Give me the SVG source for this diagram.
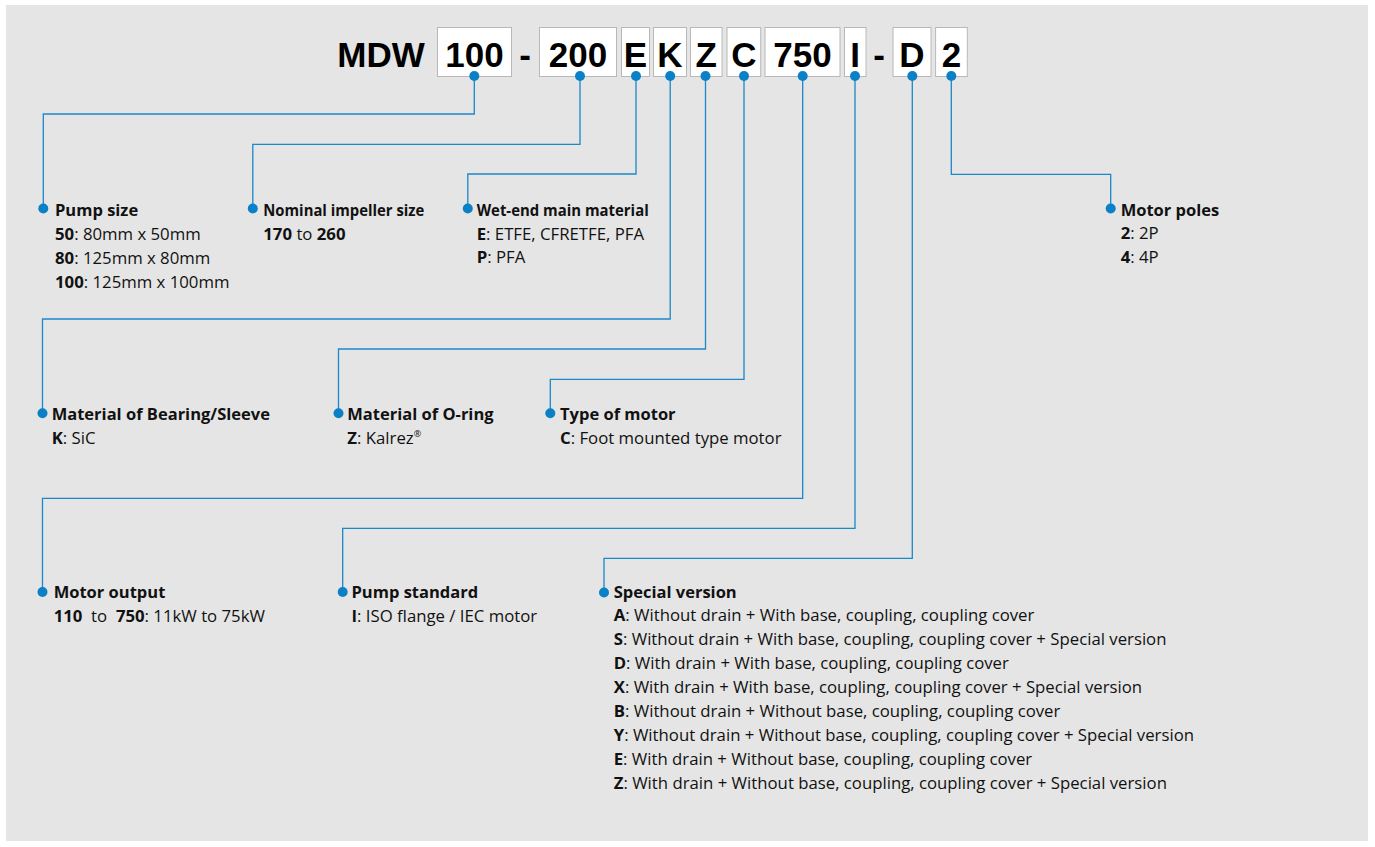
<svg xmlns="http://www.w3.org/2000/svg" width="1375" height="847" viewBox="0 0 1375 847">
<style>
.bg{fill:#e5e5e5}
.box{fill:#ffffff;stroke:#b8b8b8;stroke-width:1}
.code{font-family:"Liberation Sans",Arial,sans-serif;font-weight:bold;font-size:35px;fill:#000;text-anchor:middle}
.conn path{fill:none;stroke:#1a88c9;stroke-width:1.3}
.dot{fill:#0a80c6}
.t{font-family:"Open Sans","Noto Sans",sans-serif;font-size:16.75px;fill:#111;white-space:pre}
.h{font-family:"Open Sans","Noto Sans",sans-serif;font-size:16.5px;font-weight:bold;fill:#111}
.b{font-weight:bold}
.sup{font-size:9px}
</style>
<rect class="bg" x="6" y="5" width="1362" height="836"/>

<g id="code">
<text class="code" x="381" y="66.7">MDW</text>
<rect class="box" x="437.5" y="27.5" width="74" height="49"/>
<text class="code" x="474.5" y="66.7">100</text>
<text class="code" x="525" y="66.7">-</text>
<rect class="box" x="539.5" y="27.5" width="77" height="49"/>
<text class="code" x="578" y="66.7">200</text>
<rect class="box" x="621.5" y="27.5" width="28" height="49"/>
<text class="code" x="635.5" y="66.7">E</text>
<rect class="box" x="653.5" y="27.5" width="33" height="49"/>
<text class="code" x="670" y="66.7">K</text>
<rect class="box" x="690.5" y="27.5" width="31.5" height="49"/>
<text class="code" x="706.2" y="66.7">Z</text>
<rect class="box" x="727" y="27.5" width="33.7" height="49"/>
<text class="code" x="743.8" y="66.7">C</text>
<rect class="box" x="765" y="27.5" width="75" height="49"/>
<text class="code" x="802.5" y="66.7">750</text>
<rect class="box" x="844.5" y="27.5" width="21.5" height="49"/>
<text class="code" x="855.2" y="66.7">I</text>
<text class="code" x="879" y="66.7">-</text>
<rect class="box" x="893" y="27.5" width="38" height="49"/>
<text class="code" x="912" y="66.7">D</text>
<rect class="box" x="935.6" y="27.5" width="31.7" height="49"/>
<text class="code" x="951.5" y="66.7">2</text>
</g>

<g id="connectors" class="conn">
<path d="M474.3 76 V114 H43.3 V208.5"/>
<path d="M580 76 V144.3 H252.8 V208.5"/>
<path d="M636 76 V174 H467.8 V208.5"/>
<path d="M670.2 76 V319 H42.5 V413.3"/>
<path d="M705.5 76 V349 H338.5 V413.3"/>
<path d="M744 76 V379.3 H550.3 V413.3"/>
<path d="M802.7 76 V498.3 H42.5 V592"/>
<path d="M855 76 V528.3 H342.7 V592"/>
<path d="M912.3 76 V558.3 H604 V592.5"/>
<path d="M951.3 76 V174.3 H1110.7 V208.5"/>
</g>

<g id="code-dots">
<circle class="dot" cx="474.3" cy="76" r="5"/>
<circle class="dot" cx="580" cy="76" r="5"/>
<circle class="dot" cx="636" cy="76" r="5"/>
<circle class="dot" cx="670.2" cy="76" r="5"/>
<circle class="dot" cx="705.5" cy="76" r="5"/>
<circle class="dot" cx="744" cy="76" r="5"/>
<circle class="dot" cx="802.7" cy="76" r="5"/>
<circle class="dot" cx="855" cy="76" r="5"/>
<circle class="dot" cx="912.3" cy="76" r="5"/>
<circle class="dot" cx="951.3" cy="76" r="5"/>
</g>

<g id="pump-size">
<circle class="dot" cx="43.3" cy="208.5" r="5"/>
<text class="h" x="55" y="216">Pump size</text>
<text class="t" x="55" y="240"><tspan class="b">50</tspan>: 80mm x 50mm</text>
<text class="t" x="55" y="264"><tspan class="b">80</tspan>: 125mm x 80mm</text>
<text class="t" x="55" y="288"><tspan class="b">100</tspan>: 125mm x 100mm</text>
</g>

<g id="impeller-size">
<circle class="dot" cx="252.8" cy="208.5" r="5"/>
<text class="h" x="263.3" y="216" textLength="161" lengthAdjust="spacingAndGlyphs">Nominal impeller size</text>
<text class="t" x="263.3" y="240"><tspan class="b">170</tspan> to <tspan class="b">260</tspan></text>
</g>

<g id="wet-end">
<circle class="dot" cx="467.8" cy="208.5" r="5"/>
<text class="h" x="476.7" y="215.5" textLength="172" lengthAdjust="spacingAndGlyphs">Wet-end main material</text>
<text class="t" x="476.7" y="239.5"><tspan class="b">E</tspan>: ETFE, CFRETFE, PFA</text>
<text class="t" x="476.7" y="263"><tspan class="b">P</tspan>: PFA</text>
</g>

<g id="motor-poles">
<circle class="dot" cx="1110.7" cy="208.5" r="5"/>
<text class="h" x="1120.7" y="215.5">Motor poles</text>
<text class="t" x="1120.7" y="239"><tspan class="b">2</tspan>: 2P</text>
<text class="t" x="1120.7" y="262.5"><tspan class="b">4</tspan>: 4P</text>
</g>

<g id="bearing">
<circle class="dot" cx="42.5" cy="413.3" r="5"/>
<text class="h" x="51.7" y="419.5">Material of Bearing/Sleeve</text>
<text class="t" x="51.7" y="443.5"><tspan class="b">K</tspan>: SiC</text>
</g>

<g id="o-ring">
<circle class="dot" cx="338.5" cy="413.3" r="5"/>
<text class="h" x="347.3" y="419.5">Material of O-ring</text>
<text class="t" x="347.3" y="443.5"><tspan class="b">Z</tspan>: Kalrez<tspan class="sup" dy="-7">®</tspan></text>
</g>

<g id="motor-type">
<circle class="dot" cx="550.3" cy="413.3" r="5"/>
<text class="h" x="560" y="420">Type of motor</text>
<text class="t" x="560" y="444"><tspan class="b">C</tspan>: Foot mounted type motor</text>
</g>

<g id="motor-output">
<circle class="dot" cx="42.5" cy="592" r="5"/>
<text class="h" x="53.7" y="598">Motor output</text>
<text class="t" x="53.7" y="621.5"><tspan class="b">110</tspan>  to  <tspan class="b">750</tspan>: 11kW to 75kW</text>
</g>

<g id="pump-standard">
<circle class="dot" cx="342.7" cy="592" r="5"/>
<text class="h" x="351.5" y="598">Pump standard</text>
<text class="t" x="351.5" y="621.5"><tspan class="b">I</tspan>: ISO flange / IEC motor</text>
</g>

<g id="special-version">
<circle class="dot" cx="604" cy="592.5" r="5"/>
<text class="h" x="613.7" y="597.5">Special version</text>
<text class="t" x="613.7" y="620.5"><tspan class="b">A</tspan>: Without drain + With base, coupling, coupling cover</text>
<text class="t" x="613.7" y="644.5"><tspan class="b">S</tspan>: Without drain + With base, coupling, coupling cover + Special version</text>
<text class="t" x="613.7" y="668.5"><tspan class="b">D</tspan>: With drain + With base, coupling, coupling cover</text>
<text class="t" x="613.7" y="692.5"><tspan class="b">X</tspan>: With drain + With base, coupling, coupling cover + Special version</text>
<text class="t" x="613.7" y="716.5"><tspan class="b">B</tspan>: Without drain + Without base, coupling, coupling cover</text>
<text class="t" x="613.7" y="740.5"><tspan class="b">Y</tspan>: Without drain + Without base, coupling, coupling cover + Special version</text>
<text class="t" x="613.7" y="764.5"><tspan class="b">E</tspan>: With drain + Without base, coupling, coupling cover</text>
<text class="t" x="613.7" y="788.5"><tspan class="b">Z</tspan>: With drain + Without base, coupling, coupling cover + Special version</text>
</g>
</svg>
